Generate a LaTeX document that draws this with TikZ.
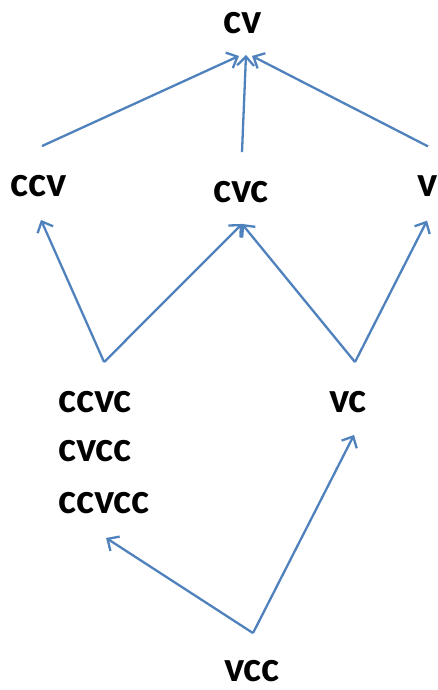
\documentclass[tikz,border=0pt]{standalone}
\usepackage{fontspec}
\setmainfont{Carlito}
\usetikzlibrary{arrows.meta}
\definecolor{linkblue}{RGB}{79,129,189}
\begin{document}
\begin{tikzpicture}[x=1pt,y=-1pt,
		syl/.style={inner sep=0pt,font=\fontsize{43}{43}\selectfont\bfseries},
		link/.style={draw=linkblue,line width=2.3pt,-{Straight Barb[length=9pt,width=17pt]}}]
		\useasboundingbox (0,0) rectangle (438,690);
		\node[syl] (cv) at (243,23) {cv};
		\node[syl] (ccv) at (39,186) {ccv};
		\node[syl] (cvc) at (241,192) {cvc};
		\node[syl] (v) at (428,186) {v};
		\node[syl,anchor=west] (ccvc) at (58,402) {ccvc};
		\node[syl,anchor=west] (cvcc) at (58,451) {cvcc};
		\node[syl,anchor=west] (ccvcc) at (58,503) {ccvcc};
		\node[syl] (vc) at (348,402) {vc};
		\node[syl] (vcc) at (252,671) {vcc};
		% where the lower arrows branch
		\coordinate (forkA) at ([xshift=9pt,yshift=29pt]ccvc.north);
		\coordinate (forkB) at ([xshift=7pt,yshift=29pt]vc.north);
		\coordinate (forkC) at ([xshift=1pt,yshift=27pt]vcc.north);
		\draw[link] ([xshift=3pt,yshift=29pt]ccv.north) -- ([xshift=-4pt,yshift=-22pt]cv.south);
		\draw[link] ([xshift=1pt,yshift=29pt]cvc.north) -- ([xshift=3pt,yshift=-21pt]cv.south);
		\draw[link] ([yshift=29pt]v.north) -- ([xshift=9pt,yshift=-22pt]cv.south);
		\draw[link] (forkA) -- ([xshift=2pt,yshift=-23pt]ccv.south);
		\draw[link] (forkA) -- ([xshift=1pt,yshift=-21pt]cvc.south);
		\draw[link] (forkB) -- ([xshift=1pt,yshift=-21pt]cvc.south);
		\draw[link] (forkB) -- ([xshift=-1pt,yshift=-24pt]v.south);
		\draw[link] (forkC) -- ([xshift=2pt,yshift=-24pt]ccvcc.south);
		\draw[link] (forkC) -- ([xshift=6pt,yshift=-22pt]vc.south);
	\end{tikzpicture}
\end{document}
